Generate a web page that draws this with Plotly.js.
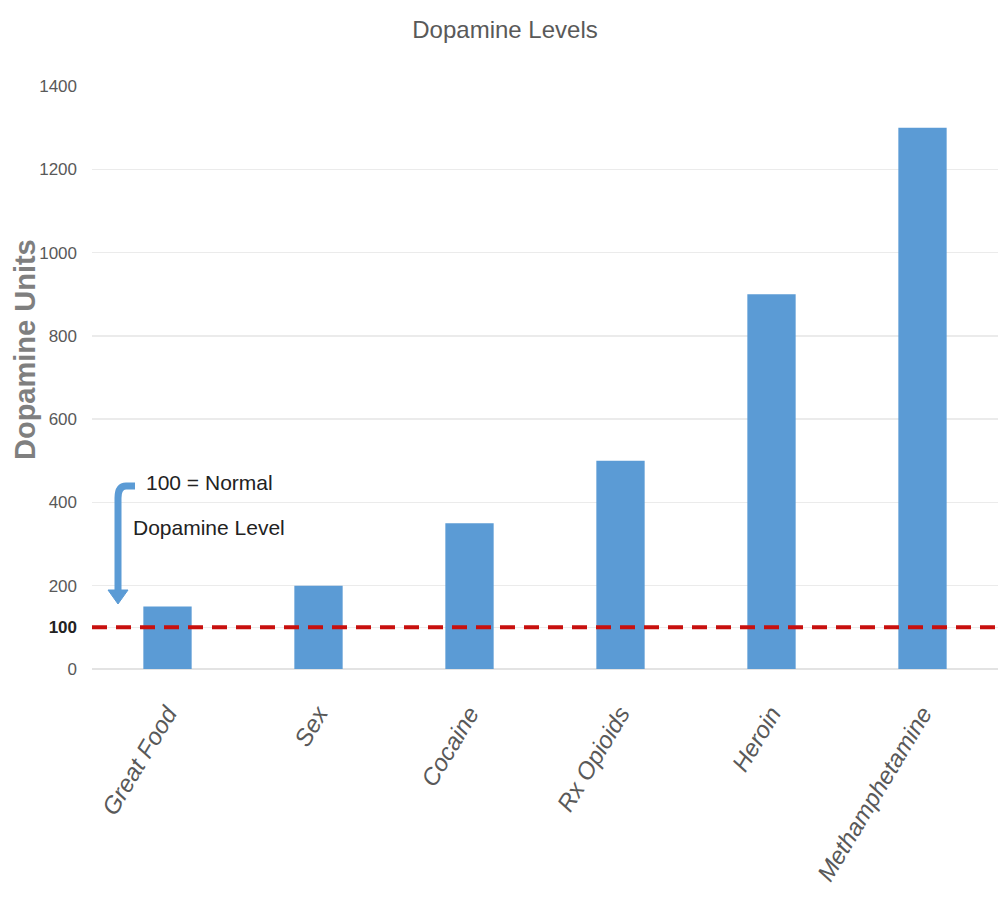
<!DOCTYPE html>
<html>
<head>
<meta charset="utf-8">
<script src="https://cdn.plot.ly/plotly-3.0.1.min.js"></script>
<style>html,body{margin:0;padding:0;background:#fff;}#chart{width:1004px;height:901px;}</style>
</head>
<body>
<div id="chart"></div>
<script>
const categories = ["Great Food", "Sex", "Cocaine", "Rx Opioids", "Heroin", "Methamphetamine"];
const dopamineUnits = [150, 200, 350, 500, 900, 1300];
const normalLevel = 100;
const yTickVals = [0, 100, 200, 400, 600, 800, 1000, 1200, 1400];
const yTickText = ["0", "<b><span style='color:#222'>100</span></b>", "200", "400", "600", "800", "1000", "1200", "1400"];
const titleText = "Dopamine Levels";
const yTitleText = "Dopamine Units";
const noteLine1 = "100 = Normal";
const noteLine2 = "Dopamine Level";

const sans = "'Liberation Sans', Arial, sans-serif";
const blue = "#5b9bd5";

// pixel helpers for decoration positions
const plotL = 92, plotW = 906, plotT = 86, plotH = 583;
const px = v => (v - plotL) / plotW;
const py = v => (plotT + plotH - v) / plotH * 1400;

const trace = {
  type: "bar",
  x: categories,
  y: dopamineUnits,
  marker: {color: blue},
  hoverinfo: "x+y"
};

const layout = {
  width: 1004, height: 901,
  paper_bgcolor: "#fff", plot_bgcolor: "#fff",
  margin: {l: plotL, r: 1004 - plotL - plotW, t: plotT, b: 901 - plotT - plotH},
  showlegend: false,
  bargap: 0.68,
  title: {text: titleText, x: 0.503, xanchor: "center", y: 0.967, yanchor: "middle",
          font: {family: sans, size: 24, color: "#595959"}},
  xaxis: {
    type: "category",
    tickangle: -59,
    tickfont: {family: sans, size: 24, color: "#595959", style: "italic"},
    ticks: "outside", ticklen: 20, tickcolor: "rgba(0,0,0,0)",
    showline: false, showgrid: false, zeroline: false,
    fixedrange: true
  },
  yaxis: {
    range: [0, 1400],
    tickvals: yTickVals,
    ticktext: yTickText,
    tickfont: {family: sans, size: 17, color: "#595959"},
    ticks: "", ticklabelstandoff: 14,
    showgrid: true, gridcolor: "#ebebeb", gridwidth: 1.5,
    zeroline: true, zerolinecolor: "#e3e3e3", zerolinewidth: 1.5
  },
  shapes: [
    {type: "line", xref: "paper", yref: "y", x0: 0, x1: (1004 - plotL) / plotW, y0: normalLevel, y1: normalLevel,
     line: {color: "#c8100e", width: 4, dash: "15px,9px"}, layer: "above"},
    // curved arrow body
    {type: "path", xref: "paper", yref: "y",
     path: `M ${px(135)} ${py(486)} L ${px(126)} ${py(486)} Q ${px(118)} ${py(486)} ${px(118)} ${py(498)} L ${px(118)} ${py(592)}`,
     line: {color: blue, width: 7}, layer: "above"},
    // arrow head
    {type: "path", xref: "paper", yref: "y",
     path: `M ${px(108)} ${py(590)} L ${px(128)} ${py(590)} L ${px(118)} ${py(604)} Z`,
     fillcolor: blue, line: {color: blue, width: 1}, layer: "above"}
  ],
  annotations: [
    {xref: "paper", yref: "y", x: px(209), y: py(482), text: noteLine1, showarrow: false,
     xanchor: "center", yanchor: "middle", font: {family: sans, size: 21, color: "#222"}},
    {xref: "paper", yref: "y", x: px(209), y: py(527), text: noteLine2, showarrow: false,
     xanchor: "center", yanchor: "middle", font: {family: sans, size: 21, color: "#222"}},
    {xref: "paper", yref: "paper", x: px(25), y: (plotT + plotH - 350) / plotH, text: yTitleText, showarrow: false,
     textangle: -90, xanchor: "center", yanchor: "middle",
     font: {family: sans, size: 29, weight: "bold", color: "#7f7f7f"}}
  ]
};

Plotly.newPlot("chart", [trace], layout, {displayModeBar: false, staticPlot: true});
</script>
</body>
</html>
